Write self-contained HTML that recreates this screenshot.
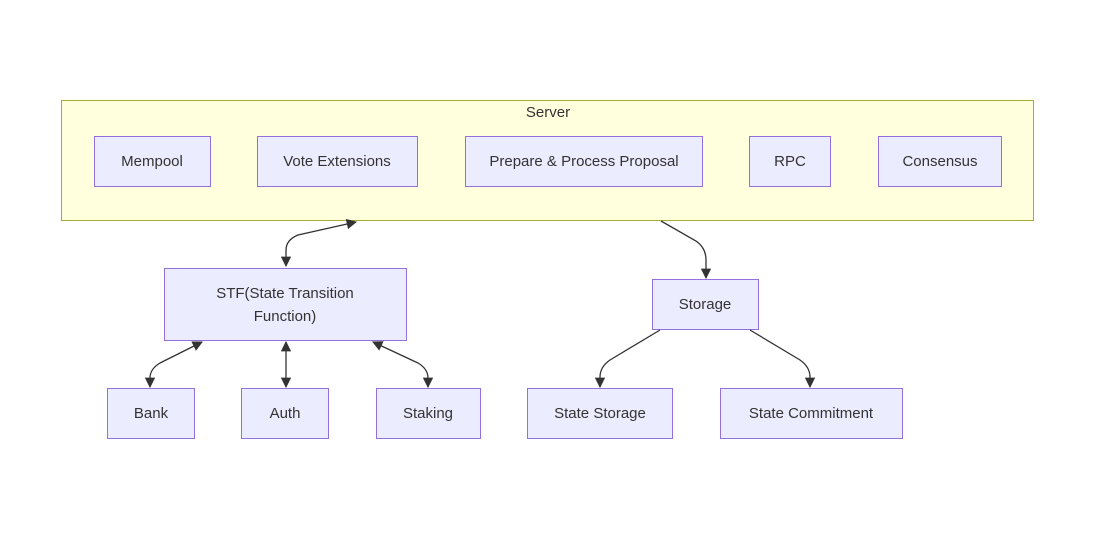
<!DOCTYPE html>
<html><head><meta charset="utf-8"><style>
html,body{margin:0;padding:0;background:#fff;}
svg text{font-family:"Liberation Sans","DejaVu Sans",sans-serif;font-size:15px;fill:#333;}
</style></head><body>
<svg width="1100" height="546" viewBox="0 0 1100 546" xmlns="http://www.w3.org/2000/svg">
<defs>
<marker id="a" viewBox="0 0 10 10" refX="9" refY="5" markerWidth="8" markerHeight="8" orient="auto-start-reverse"><path d="M0,0 L10,5 L0,10 z" fill="#333"/></marker>
</defs>
<rect x="61.5" y="100.5" width="972" height="120" fill="#ffffde" stroke="#aaaa33"/>
<text x="548" y="117" text-anchor="middle">Server</text>
<g fill="#ececff" stroke="#9370db">
<rect x="94.5" y="136.5" width="116" height="50"/>
<rect x="257.5" y="136.5" width="160" height="50"/>
<rect x="465.5" y="136.5" width="237" height="50"/>
<rect x="749.5" y="136.5" width="81" height="50"/>
<rect x="878.5" y="136.5" width="123" height="50"/>
<rect x="164.5" y="268.5" width="242" height="72"/>
<rect x="652.5" y="279.5" width="106" height="50"/>
<rect x="107.5" y="388.5" width="87" height="50"/>
<rect x="241.5" y="388.5" width="87" height="50"/>
<rect x="376.5" y="388.5" width="104" height="50"/>
<rect x="527.5" y="388.5" width="145" height="50"/>
<rect x="720.5" y="388.5" width="182" height="50"/>
</g>
<g text-anchor="middle">
<text x="152" y="166">Mempool</text>
<text x="337" y="166">Vote Extensions</text>
<text x="584" y="166">Prepare &amp; Process Proposal</text>
<text x="790" y="166">RPC</text>
<text x="940" y="166">Consensus</text>
<text x="285" y="298">STF(State Transition</text>
<text x="285" y="321">Function)</text>
<text x="705" y="309">Storage</text>
<text x="151" y="418">Bank</text>
<text x="285" y="418">Auth</text>
<text x="428" y="418">Staking</text>
<text x="600" y="418">State Storage</text>
<text x="811" y="418">State Commitment</text>
</g>
<g fill="none" stroke="#333" stroke-width="1.3">
<path d="M286,266 L286,250 Q286,240 298,235 L356,222" marker-start="url(#a)" marker-end="url(#a)"/>
<path d="M661,221 L696,241 Q706,248 706,260 L706,278" marker-end="url(#a)"/>
<path d="M202,342 L160,363 Q150,369 150,378 L150,387" marker-start="url(#a)" marker-end="url(#a)"/>
<path d="M286,342 L286,387" marker-start="url(#a)" marker-end="url(#a)"/>
<path d="M373,342 L418,363 Q428,369 428,378 L428,387" marker-start="url(#a)" marker-end="url(#a)"/>
<path d="M660,330 L610,360 Q600,367 600,377 L600,387" marker-end="url(#a)"/>
<path d="M750,330 L800,360 Q810,367 810,377 L810,387" marker-end="url(#a)"/>
</g>
</svg>
</body></html>
